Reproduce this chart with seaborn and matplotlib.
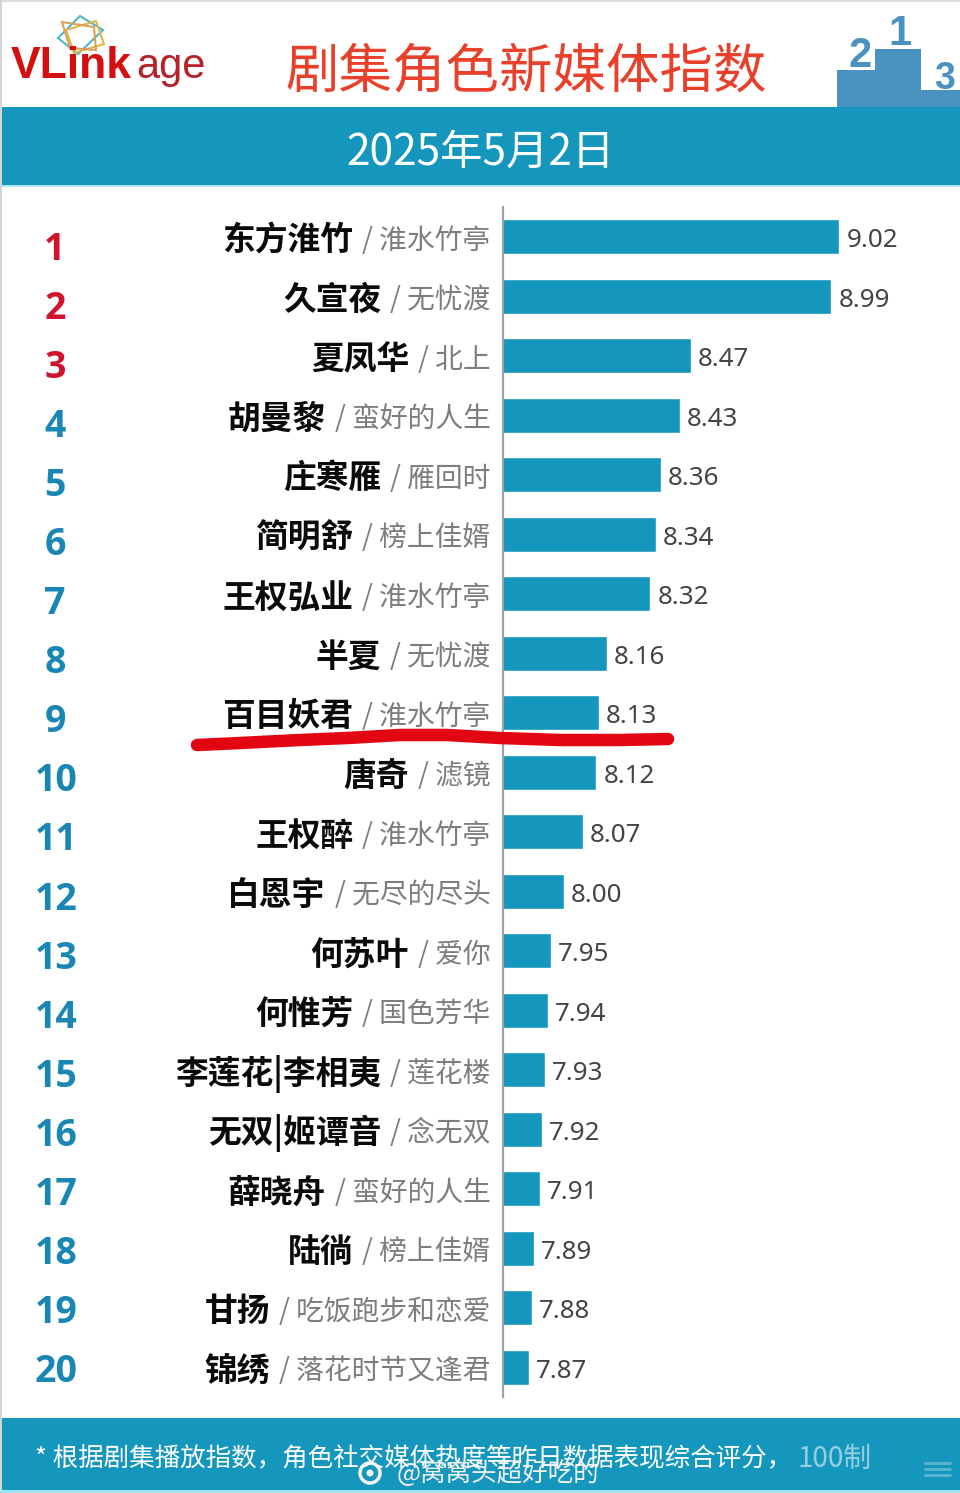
import matplotlib
matplotlib.use("Agg")
import matplotlib.pyplot as plt
import seaborn as sns
import pandas as pd
from matplotlib.patches import Polygon, Rectangle, Circle

sns.set_theme(style="white")
plt.rcParams['font.family'] = ['Noto Sans CJK SC', 'DejaVu Sans']

# dados
roles = ['东方淮竹', '久宣夜', '夏凤华', '胡曼黎', '庄寒雁', '简明舒', '王权弘业', '半夏', '百目妖君', '唐奇',
         '王权醉', '白恩宇', '何苏叶', '何惟芳', '李莲花|李相夷', '无双|姬谭音', '薛晓舟', '陆徜', '甘扬', '锦绣']
shows = ['淮水竹亭', '无忧渡', '北上', '蛮好的人生', '雁回时', '榜上佳婿', '淮水竹亭', '无忧渡', '淮水竹亭', '滤镜',
         '淮水竹亭', '无尽的尽头', '爱你', '国色芳华', '莲花楼', '念无双', '蛮好的人生', '榜上佳婿', '吃饭跑步和恋爱', '落花时节又逢君']
scores = [9.02, 8.99, 8.47, 8.43, 8.36, 8.34, 8.32, 8.16, 8.13, 8.12,
          8.07, 8.00, 7.95, 7.94, 7.93, 7.92, 7.91, 7.89, 7.88, 7.87]
ranks = list(range(1, 21))

W, H = 960, 1493
BLUE = '#1496bd'
df = pd.DataFrame({'role': roles, 'score': scores})

fig = plt.figure(figsize=(W / 100, H / 100), dpi=100, facecolor='white')

# eixo das barras: 503..960 px na horizontal, 207..1397 px na vertical
ax = fig.add_axes([503 / W, 1 - 1397 / H, (W - 503) / W, (1397 - 207) / H])
sns.barplot(data=df, x='score', y='role', color=BLUE, saturation=1, width=0.59, ax=ax)
ax.set_xlim(7.774, 7.774 + (W - 503) / 270)
ax.set_xlabel('')
ax.set_ylabel('')
ax.set_xticks([])
ax.set_yticks([])
ax.patch.set_alpha(0)
sns.despine(ax=ax, left=False, bottom=True)
ax.spines['left'].set_color('#9aa5aa')
ax.spines['left'].set_linewidth(1.6)

for c in ax.containers:
    textos = ax.bar_label(c, labels=[f'{v:.2f}' for v in scores], padding=5, fontsize=18.7,
                          color='#444444', family=['Noto Sans', 'DejaVu Sans'])
    for t in textos:
        t.xyann = (5, -3)

# rótulos: personagem em negrito + / série em cinza
ytrans = ax.get_yaxis_transform()
for i, (role, show) in enumerate(zip(roles, shows)):
    s = ax.annotate('/ ' + show, xy=(0, i), xycoords=ytrans, xytext=(-9, -3), textcoords='offset points',
                    ha='right', va='center', fontsize=20, color='#7d7d7d', annotation_clip=False)
    ax.annotate(role, xy=(0, 0.5), xycoords=s, xytext=(-6.5, 0), textcoords='offset points', ha='right', va='center',
                fontsize=23.6, fontweight=900, color='#0a0a0a', annotation_clip=False)

# camada em pixels para cabeçalho e rodapé
ov = fig.add_axes([0, 0, 1, 1], zorder=5)
ov.set_xlim(0, W)
ov.set_ylim(H, 0)
ov.axis('off')

for r in ranks:
    y = 250 + 59.05 * (r - 1)
    ov.text(55 if r < 10 else 56, y, str(r), ha='center', va='center', fontsize=27, fontweight='bold',
            color='#d0142c' if r <= 3 else '#1a86b4', family=['Open Sans', 'DejaVu Sans'])

# bordas da imagem
ov.add_patch(Rectangle((0, 0), W, 2, color='#dddddd', lw=0))
ov.add_patch(Rectangle((0, 0), 2, H, color='#cfd6d8', lw=0))

# faixas azuis
ov.add_patch(Rectangle((2, 107), W, 78, color=BLUE, lw=0))
ov.add_patch(Rectangle((2, 1418), W, 72, color=BLUE, lw=0))
ov.add_patch(Rectangle((0, 1490), W, 3, color='#9fe3ef', lw=0))
ov.add_patch(Rectangle((2, 185), W, 2, color='#aee8f2', lw=0))

ov.text(526, 72, '剧集角色新媒体指数', ha='center', va='center', fontsize=38.5, color='#e8402a')
ov.text(480, 153, '2025年5月2日', ha='center', va='center', fontsize=30.5, fontweight=500, color='white')

# pódio
ov.add_patch(Polygon([(837, 107), (837, 70), (875, 70), (875, 49), (921, 49), (921, 90), (960, 90), (960, 107)],
                     closed=True, color='#4a92bf', lw=0))
for x, y, t, fs in [(860, 56, '2', 30), (900, 34, '1', 30), (945, 79, '3', 27)]:
    ov.text(x, y, t, ha='center', va='center', fontsize=fs, fontweight='bold', color='#4a92bf',
            family=['Liberation Sans', 'DejaVu Sans'])

# logo
for pts, col in [([(58, 38), (80, 16), (103, 30), (78, 54)], '#4fb6c8'),
                 ([(66, 30), (96, 21), (104, 44), (74, 53)], '#e0b84a'),
                 ([(62, 22), (94, 27), (96, 50), (70, 48)], '#d9a05a')]:
    ov.add_patch(Polygon(pts, closed=True, fill=False, ec=col, lw=1.5))
ov.text(11, 67, 'VLink', ha='left', va='center', fontsize=32, fontweight='bold', color='#d40f0f',
        family=['Liberation Sans', 'DejaVu Sans'])
ov.text(136, 67, 'age', ha='left', va='center', fontsize=30, color='#b5222a',
        family=['Liberation Sans', 'DejaVu Sans'])

# rodapé
ov.text(35, 1459, '* 根据剧集播放指数，角色社交媒体热度等昨日数据表现综合评分，', ha='left', va='center',
        fontsize=18.4, color='white')
ov.text(797, 1459, '100制', ha='left', va='center', fontsize=20, color='white', alpha=0.55)
for y in (1463, 1469, 1475):
    ov.plot([925, 950], [y, y], color='white', alpha=0.3, lw=2)

# marca d'água
ov.add_patch(Circle((370, 1473), 10, fc='none', ec='#f3f3f3', lw=2.5))
ov.add_patch(Circle((370, 1473), 3.5, fc='#f3f3f3', lw=0))
ov.text(397, 1474, '@窝窝头超好吃的', ha='left', va='center', fontsize=18.4, color='#f0f0f0')

# traço vermelho à mão
line_x = [197, 240, 300, 347, 400, 447, 500, 560, 620, 668]
line_y = [745, 743, 740, 738, 735, 735, 738, 740, 740, 739]
ov.plot(line_x, line_y, color='#e20613', lw=9, solid_capstyle='round', solid_joinstyle='round')

fig.savefig('out.png', dpi=100)
